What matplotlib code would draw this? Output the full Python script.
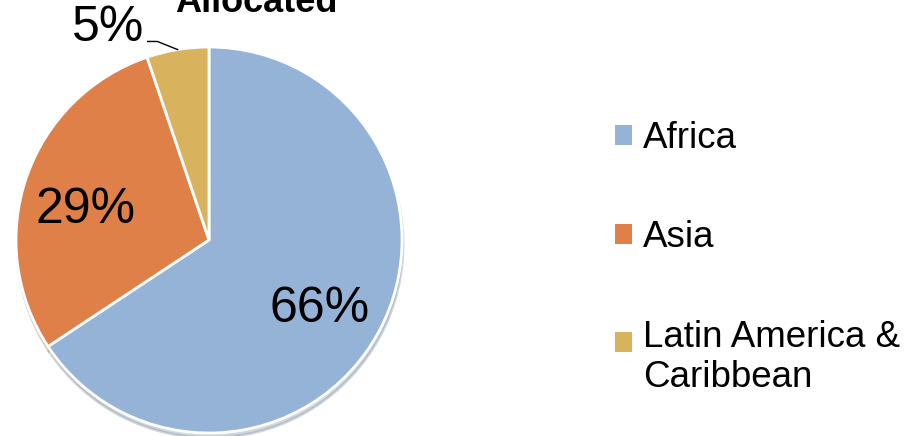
import numpy as np
import matplotlib
matplotlib.use('Agg')
import matplotlib.pyplot as plt

plt.rcParams['font.family'] = ['Liberation Sans', 'DejaVu Sans']

regions = ['Africa', 'Asia', 'Latin America &\nCaribbean']
shares = [65.7, 29.1, 5.2]
colors = ['#95B3D7', '#DF8049', '#D9B25E']

W, H = 909, 436
fig = plt.figure(figsize=(W / 100, H / 100), dpi=100)
# pie box in pixels: x 16..402, y 47..433
ax = fig.add_axes([16 / W, (H - 433) / H, 386 / W, 386 / H])

wedges, _ = ax.pie(shares, colors=colors, startangle=90, counterclock=False,
                   wedgeprops=dict(edgecolor='white', linewidth=2),
                   shadow=dict(ox=0.004, oy=-0.018, shade=0.3, alpha=0.3))
ax.set_xlim(-1, 1)
ax.set_ylim(-1, 1)
ax.set_aspect('auto')
ax.axis('off')

label_pos = [(0.575, -0.355), (-0.642, 0.155), None]
for w, val, pos in zip(wedges, shares, label_pos):
    txt = '%d%%' % round(val)
    if pos is not None:
        ax.text(pos[0], pos[1], txt, fontsize=36, ha='center', va='center')
    else:
        mid = np.deg2rad((w.theta1 + w.theta2) / 2)
        ex, ey = np.cos(mid), np.sin(mid)
        ax.plot([ex, ex - 0.105, ex - 0.155], [ey, ey + 0.042, ey + 0.042],
                color='black', linewidth=1, clip_on=False)
        ax.text(ex - 0.36, ey + 0.11, txt, fontsize=36, ha='center', va='center',
                clip_on=False)

fig.text(256 / W, 1 - 12 / H, 'Allocated', fontsize=26, fontweight='bold',
         ha='center', va='baseline')

leg = fig.legend(wedges, regions, loc='upper left', bbox_to_anchor=(615 / W, 1 - 121 / H),
                 frameon=False, fontsize=26.5, handlelength=0.47, handleheight=0.47,
                 handletextpad=0.3, labelspacing=1.75, borderpad=0, borderaxespad=0)
for h in leg.legend_handles:
    h.set_edgecolor('none')
    h.set_linewidth(0)
# two-line entry: keep the square level with the first line
last = leg.legend_handles[-1]
last.set_y(last.get_y() + 11.5)

fig.savefig('out.png', dpi=100)
